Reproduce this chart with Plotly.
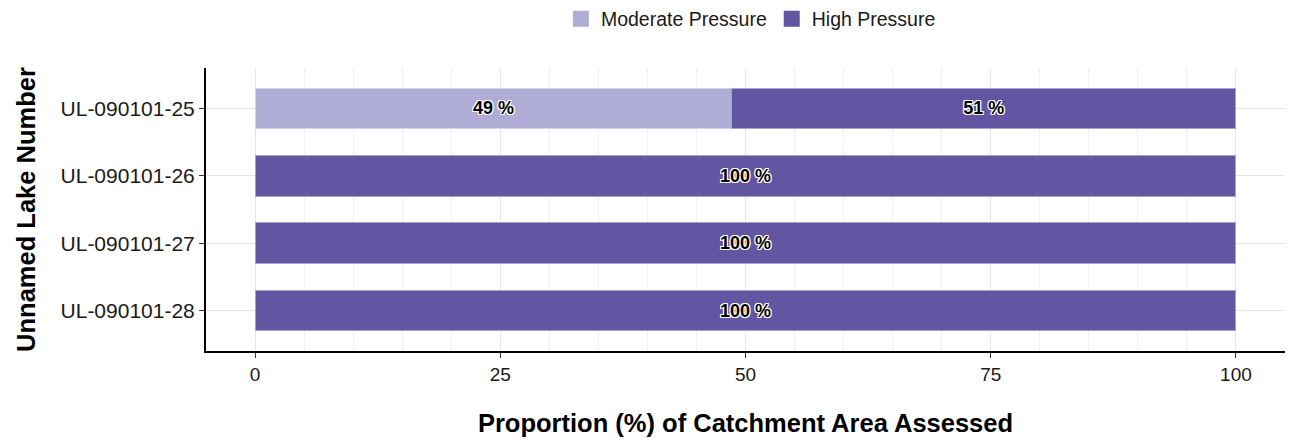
import plotly.graph_objects as go

lakes = ["UL-090101-25", "UL-090101-26", "UL-090101-27", "UL-090101-28"]
moderate = [48.6, None, None, None]
high = [51.4, 100, 100, 100]
x_ticks = [0, 25, 50, 75, 100]

c_mod = "#AFADD5"
c_high = "#6255A1"
font = "Liberation Sans, Arial, sans-serif"
shadow = ("1px 1px 0px white, -1px -1px 0px white, 1px -1px 0px white, -1px 1px 0px white, "
          "0px 1px 0px white, 0px -1px 0px white, 1px 0px 0px white, -1px 0px 0px white")
label_font = dict(family=font, size=18, color="black", weight="bold", shadow=shadow)

fig = go.Figure()
fig.add_trace(go.Bar(
    y=lakes, x=moderate, orientation="h", name="Moderate Pressure", showlegend=False,
    marker=dict(color=c_mod, line=dict(color="#D6D4EA", width=1)), width=0.6,
    texttemplate="%{x:.0f} %", textposition="inside", insidetextanchor="middle",
    textfont=label_font,
))
fig.add_trace(go.Bar(
    y=lakes, x=high, orientation="h", name="High Pressure", showlegend=False,
    marker=dict(color=c_high, line=dict(color="#A9A2CF", width=1)), width=0.6,
    texttemplate="%{x:.0f} %", textposition="inside", insidetextanchor="middle",
    textfont=label_font,
))
# legend entries with larger square swatches
for nm, col in [("Moderate Pressure", c_mod), ("High Pressure", c_high)]:
    fig.add_trace(go.Scatter(
        x=[None], y=[None], mode="markers", name=nm,
        marker=dict(symbol="square", size=22, color=col),
    ))

fig.update_layout(
    barmode="stack",
    width=1291, height=445,
    margin=dict(l=206, r=6, t=68, b=94, autoexpand=False),
    paper_bgcolor="white", plot_bgcolor="white",
    font=dict(family=font, color="#1a1a1a"),
    legend=dict(orientation="h", x=0.505, xanchor="center", y=1.173, yanchor="middle",
                font=dict(size=19.5, color="#1a1a1a"), itemsizing="trace",
                traceorder="normal", itemwidth=30),
    showlegend=True,
    uniformtext=dict(minsize=10, mode="show"),
)

fig.update_xaxes(
    range=[-5, 105], tickvals=x_ticks, ticktext=[str(v) for v in x_ticks],
    showgrid=True, gridcolor="#E6E6E6", gridwidth=1.2,
    minor=dict(dtick=5, tick0=0, showgrid=True, gridcolor="#EFEFEF", gridwidth=0.8),
    showline=True, linecolor="black", linewidth=2,
    ticks="outside", ticklen=5, tickcolor="#333", tickwidth=1.2,
    tickfont=dict(size=19, color="#1a1a1a"), zeroline=False, automargin=False,
    title=dict(text="<b>Proportion (%) of Catchment Area Assessed</b>",
               font=dict(size=25.5, color="black"), standoff=30),
)
fig.update_yaxes(
    type="category", categoryorder="array", categoryarray=lakes,
    range=[3.6, -0.6], automargin=False,
    showgrid=True, gridcolor="#E6E6E6", gridwidth=1.2,
    showline=True, linecolor="black", linewidth=2,
    ticks="outside", ticklen=5, tickcolor="#333", tickwidth=1.2,
    tickfont=dict(size=21, color="#1a1a1a"),
    title=dict(text="<b>Unnamed Lake Number</b>", font=dict(size=25.5, color="black"), standoff=18),
)

fig.write_html("out.html", config={"displayModeBar": False},
               post_script="document.body.style.margin='0';")
